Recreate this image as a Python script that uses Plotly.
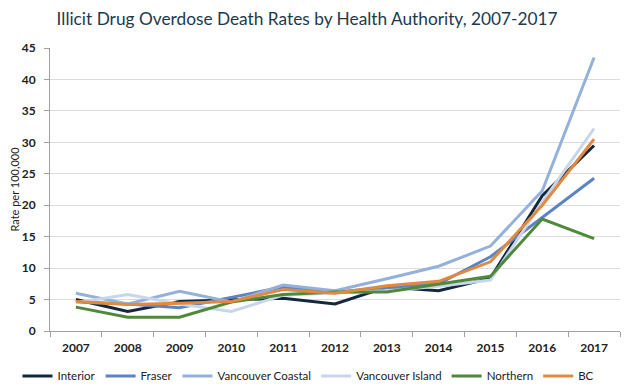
import plotly.graph_objects as go

years = ["2007", "2008", "2009", "2010", "2011", "2012", "2013", "2014", "2015", "2016", "2017"]

interior = [5.0, 3.1, 4.7, 5.0, 5.2, 4.3, 7.0, 6.4, 8.4, 21.5, 29.5]
fraser = [4.6, 4.3, 3.7, 5.3, 7.0, 6.2, 6.8, 7.5, 11.8, 18.0, 24.3]
vancouver_coastal = [6.0, 4.3, 6.3, 4.6, 7.3, 6.4, 8.3, 10.3, 13.5, 22.3, 43.5]
vancouver_island = [4.5, 5.8, 4.3, 3.1, 5.7, 6.0, 6.4, 7.1, 8.1, 20.5, 32.2]
northern = [3.8, 2.2, 2.2, 4.6, 5.8, 6.2, 6.2, 7.4, 8.7, 17.8, 14.7]
bc = [4.7, 4.2, 4.4, 4.7, 6.6, 6.0, 7.2, 7.9, 11.0, 20.0, 30.5]

series = [
    ("Interior", interior, "#14283d", "legend"),
    ("Fraser", fraser, "#5b84c4", "legend"),
    ("Vancouver Coastal", vancouver_coastal, "#93b1dc", "legend"),
    ("Vancouver Island", vancouver_island, "#c8d6eb", "legend2"),
    ("Northern", northern, "#4f8a3b", "legend2"),
    ("BC", bc, "#e2893f", "legend2"),
]

fig = go.Figure()
for name, vals, color, lg in series:
    fig.add_trace(go.Scatter(x=years, y=vals, name=name, mode="lines", legend=lg,
                             line=dict(color=color, width=3)))

font_fam = "Lato, 'Open Sans', sans-serif"
leg_common = dict(orientation="h", yanchor="middle", y=-0.159,
                  font=dict(family=font_fam, size=11.5, color="#222222"),
                  itemwidth=30, tracegroupgap=0, bgcolor="rgba(0,0,0,0)")
fig.update_layout(
    width=631, height=392,
    margin=dict(l=42, r=19, t=40, b=69, autoexpand=False),
    paper_bgcolor="white", plot_bgcolor="white",
    title=dict(text="Illicit Drug Overdose Death Rates by Health Authority, 2007-2017",
               x=0.474, xanchor="center", y=0.972, yanchor="middle",
               font=dict(family=font_fam, size=17.3, color="#1d3a4c")),
    font=dict(family=font_fam, color="#222222"),
    showlegend=True,
    legend=dict(x=-0.057, xanchor="left", **leg_common),
    legend2=dict(x=0.467, xanchor="left", **leg_common),
    xaxis=dict(type="category", range=[-0.5, 10.5], showgrid=False, showline=True,
               linecolor="#a0a0a0", linewidth=1, ticks="outside", tickson="boundaries",
               ticklen=5, tickcolor="#a0a0a0", ticklabelstandoff=6,
               tickfont=dict(family=font_fam, size=12, color="#222222", weight="bold")),
    yaxis=dict(range=[0, 45], dtick=5, showgrid=True, gridcolor="#dcdcdc",
               showline=True, linecolor="#a0a0a0", linewidth=1, ticks="outside",
               ticklen=5, tickcolor="#a0a0a0", zeroline=False, ticklabelstandoff=6,
               tickfont=dict(family=font_fam, size=12, color="#222222", weight="bold"),
               title=dict(text="Rate per 100,000", standoff=6,
                          font=dict(family=font_fam, size=11, color="#222222"))),
)

fig.write_html("out.html")
